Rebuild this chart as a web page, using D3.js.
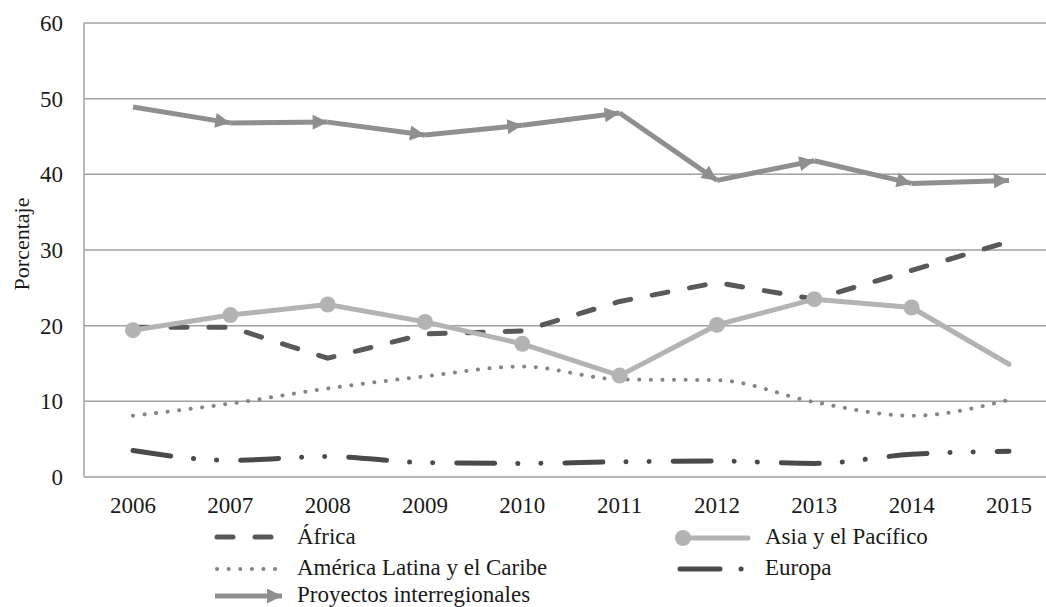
<!DOCTYPE html>
<html><head><meta charset="utf-8">
<script src="https://cdn.jsdelivr.net/npm/d3@7"></script>
<style>
@font-face{font-family:"ChartSerif";src:local("Liberation Serif"),local("LiberationSerif"),local("Liberation Serif Regular"),local("LiberationSerif-Regular");}
body{margin:0}
svg text{font-family:"Liberation Serif","ChartSerif","Tinos","Times New Roman",serif !important;}
</style>
</head><body>
<svg id="c" width="1046" height="607" font-family="Liberation Serif"></svg>
<script>
const years = [2006,2007,2008,2009,2010,2011,2012,2013,2014,2015];
const yTicks = [0,10,20,30,40,50,60];
const africa = [19.8,19.8,15.7,18.9,19.3,23.2,25.7,23.5,27.3,31.1];
const asia = [19.4,21.4,22.8,20.5,17.6,13.4,20.1,23.5,22.4,14.9];
const asiaMarkers = [true,true,true,true,true,true,true,true,true,false];
const america = [8.1,9.7,11.7,13.3,14.6,12.9,12.8,9.9,8.1,10.2];
const europa = [3.5,2.2,2.7,1.9,1.8,2.0,2.1,1.8,3.0,3.4];
const proyectos = [48.9,46.8,46.9,45.2,46.5,48.1,39.2,41.8,38.8,39.2];
const names = {africa:"África", asia:"Asia y el Pacífico", america:"América Latina y el Caribe", europa:"Europa", proyectos:"Proyectos interregionales"};

const svg = d3.select("#c");
const x = d3.scalePoint().domain(years).range([133,1009]);
const y = d3.scaleLinear().domain([0,60]).range([477,23]);
const plotL = 84, plotR = 1046;
function txt(sel,size){return sel.attr("font-family","Liberation Serif").style("font-size",size+"px").style("fill","#1a1a1a");}

svg.append("g").selectAll("line").data(yTicks).join("line")
  .attr("x1",plotL).attr("x2",plotR).attr("y1",d=>y(d)).attr("y2",d=>y(d))
  .attr("stroke","#a0a0a0").attr("stroke-width",1.5);
svg.append("line").attr("x1",plotL).attr("x2",plotL).attr("y1",y(60)).attr("y2",y(0)).attr("stroke","#a0a0a0").attr("stroke-width",1.5);
txt(svg.append("g").selectAll("text").data(yTicks).join("text")
  .attr("x",63).attr("y",d=>y(d)+8).attr("text-anchor","end"),23).text(d=>d);
txt(svg.append("g").selectAll("text").data(years).join("text")
  .attr("x",d=>x(d)).attr("y",513).attr("text-anchor","middle"),23).text(d=>d);
txt(svg.append("text").attr("transform","translate(29,244) rotate(-90)").attr("text-anchor","middle"),22).text("Porcentaje");

const defs = svg.append("defs");
defs.append("marker").attr("id","arr").attr("viewBox","0 0 10 10").attr("refX",10).attr("refY",5)
  .attr("markerUnits","userSpaceOnUse").attr("markerWidth",18).attr("markerHeight",15).attr("orient","auto")
  .append("path").attr("d","M0,0 L10,5 L0,10 Z").attr("fill","#8f8f8f");

const lin = d3.line().x((d,i)=>x(years[i])).y(d=>y(d));
const smooth = d3.line().x((d,i)=>x(years[i])).y(d=>y(d)).curve(d3.curveMonotoneX);

svg.append("path").attr("d",smooth(europa)).attr("fill","none").attr("stroke","#4a4a4a")
  .attr("stroke-width",5).attr("stroke-linecap","round").attr("stroke-dasharray","38,23,0.1,23,0.1,24");
svg.append("path").attr("d",smooth(america)).attr("fill","none").attr("stroke","#858585")
  .attr("stroke-width",4).attr("stroke-linecap","round").attr("stroke-dasharray","0.1,11.5");
svg.append("path").attr("d",lin(africa)).attr("fill","none").attr("stroke","#595959")
  .attr("stroke-width",5).attr("stroke-linecap","round").attr("stroke-dasharray","16,22");
svg.append("path").attr("d",lin(asia)).attr("fill","none").attr("stroke","#b3b3b3").attr("stroke-width",5).attr("stroke-linecap","round");
svg.append("g").selectAll("circle").data(asia.map((v,i)=>[years[i],v]).filter((d,i)=>asiaMarkers[i])).join("circle")
  .attr("cx",d=>x(d[0])).attr("cy",d=>y(d[1])).attr("r",8).attr("fill","#b3b3b3");
const segs = d3.pairs(proyectos.map((v,i)=>[years[i],v]));
svg.append("g").selectAll("path").data(segs).join("path")
  .attr("d",s=>d3.line().x(p=>x(p[0])).y(p=>y(p[1]))(s))
  .attr("fill","none").attr("stroke","#8f8f8f").attr("stroke-width",5).attr("marker-end","url(#arr)");

const lg = svg.append("g");
function ltext(tx,ty,t){txt(lg.append("text").attr("x",tx).attr("y",ty+8),23).text(t);}
lg.append("line").attr("x1",217).attr("x2",278).attr("y1",537).attr("y2",537).attr("stroke","#595959").attr("stroke-width",5).attr("stroke-linecap","round").attr("stroke-dasharray","16,22");
ltext(297,536,names.africa);
lg.append("line").attr("x1",217).attr("x2",280).attr("y1",569).attr("y2",569).attr("stroke","#858585").attr("stroke-width",4).attr("stroke-linecap","round").attr("stroke-dasharray","0.1,11.5");
ltext(297,567,names.america);
lg.append("line").attr("x1",215).attr("x2",282).attr("y1",596).attr("y2",596).attr("stroke","#8f8f8f").attr("stroke-width",5).attr("marker-end","url(#arr)");
ltext(297,594,names.proyectos);
lg.append("line").attr("x1",683).attr("x2",748).attr("y1",538).attr("y2",538).attr("stroke","#b3b3b3").attr("stroke-width",5).attr("stroke-linecap","round");
lg.append("circle").attr("cx",683).attr("cy",538).attr("r",8).attr("fill","#b3b3b3");
ltext(765,536,names.asia);
lg.append("line").attr("x1",680).attr("x2",745).attr("y1",569).attr("y2",569).attr("stroke","#4a4a4a").attr("stroke-width",5).attr("stroke-linecap","round").attr("stroke-dasharray","40,21,0.1,100");
ltext(765,567,names.europa);
</script></body></html>
